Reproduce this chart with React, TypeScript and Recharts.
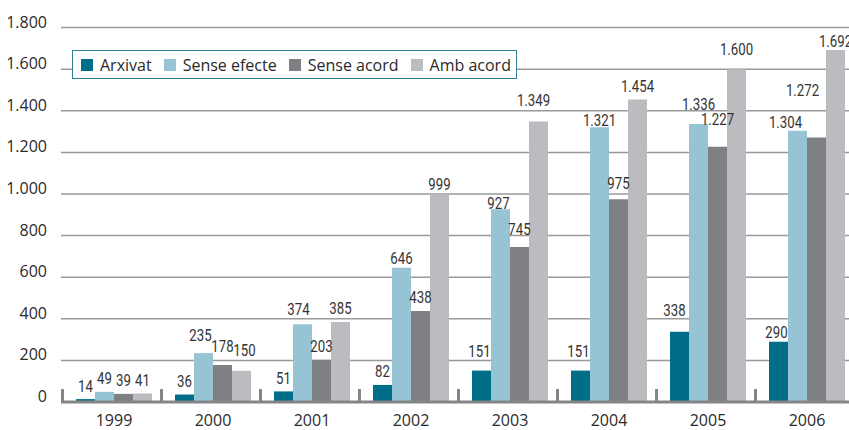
import { BarChart, Bar, XAxis, YAxis, CartesianGrid, Legend, LabelList } from "recharts";

const years = ["1999", "2000", "2001", "2002", "2003", "2004", "2005", "2006"];
const arxivat = [14, 36, 51, 82, 151, 151, 338, 290];
const senseEfecte = [49, 235, 374, 646, 927, 1321, 1336, 1304];
const senseAcord = [39, 178, 203, 438, 745, 975, 1227, 1272];
const ambAcord = [41, 150, 385, 999, 1349, 1454, 1600, 1692];
const yTicks = [0, 200, 400, 600, 800, 1000, 1200, 1400, 1600, 1800];

const series = [
  { key: "arxivat", name: "Arxivat", color: "#006e89" },
  { key: "senseEfecte", name: "Sense efecte", color: "#96c4d4" },
  { key: "senseAcord", name: "Sense acord", color: "#7f8084" },
  { key: "ambAcord", name: "Amb acord", color: "#bbbcc0" },
];

const data = years.map((year, i) => ({
  year,
  arxivat: arxivat[i],
  senseEfecte: senseEfecte[i],
  senseAcord: senseAcord[i],
  ambAcord: ambAcord[i],
}));

// hand nudges for value labels, as placed in the original
const labelShift: Record<string, [number, number]> = {
  "senseEfecte-2000": [-3, -5],
  "senseAcord-2000": [0, -5],
  "ambAcord-2000": [3, -7],
  "senseEfecte-2001": [-4, -2],
  "senseEfecte-2002": [0, 4],
  "ambAcord-2002": [0, 3],
  "arxivat-2003": [-2, -6],
  "senseEfecte-2003": [-2, 7],
  "senseAcord-2003": [0, -5],
  "ambAcord-2003": [-5, -8],
  "arxivat-2004": [-2, -6],
  "senseEfecte-2004": [0, 6],
  "senseAcord-2004": [0, -3],
  "arxivat-2005": [-5, -8],
  "senseEfecte-2005": [0, -7],
  "senseAcord-2005": [0, -14],
  "ambAcord-2005": [0, -7],
  "arxivat-2006": [-2, 4],
  "senseEfecte-2006": [-12, 5],
  "senseAcord-2006": [-14, -34],
  "ambAcord-2006": [0, 4],
};

const fmt = (n: number) => String(n).replace(/\B(?=(\d{3})+(?!\d))/g, ".");

const axisFont = "'Open Sans', 'Noto Sans', sans-serif";
const labelFont = "Roboto, 'Liberation Sans', sans-serif";

const makeLabel = (key: string) => (props: any) => {
  const { x, y, width, value, index } = props;
  const [dx, dy] = labelShift[`${key}-${years[index]}`] ?? [0, 0];
  const cx = Number(x) + Number(width) / 2 + dx;
  const cy = Number(y) - 7.5 + dy;
  // the original uses a condensed face: squeeze horizontally
  return (
    <text
      transform={`translate(${cx},${cy}) scale(0.8,1)`}
      textAnchor="middle"
      fontFamily={labelFont}
      fontSize={16.5}
      fill="#333"
    >
      {fmt(Number(value))}
    </text>
  );
};

const YearTick = (props: any) => {
  const { x, y, payload } = props;
  return (
    <g>
      <rect x={x - 53} y={y - 13} width={3} height={12} fill="#858585" />
      <text x={x} y={y + 24} textAnchor="middle" fontFamily={axisFont} fontSize={16} fill="#2a2a2a">
        {payload.value}
      </text>
    </g>
  );
};

const ValueTick = (props: any) => {
  const { x, y, payload } = props;
  return (
    <text x={x} y={y} textAnchor="end" fontFamily={axisFont} fontSize={16} fill="#2a2a2a">
      {fmt(payload.value)}
    </text>
  );
};

const LegendBox = () => (
  <div
    style={{
      boxSizing: "border-box",
      width: 445,
      height: 29,
      border: "1.5px solid #2f7f96",
      background: "#fff",
      display: "flex",
      alignItems: "center",
      paddingLeft: 8,
      gap: 12,
      fontFamily: axisFont,
      fontSize: 16,
      color: "#2a2a2a",
    }}
  >
    {series.map((s) => (
      <div key={s.key} style={{ display: "flex", alignItems: "center", gap: 7 }}>
        <span style={{ width: 12, height: 12, background: s.color, display: "inline-block" }} />
        <span>{s.name}</span>
      </div>
    ))}
  </div>
);

export default function App() {
  return (
    <div
      style={{
        position: "fixed",
        left: 0,
        top: 0,
        width: 849,
        height: 430,
        overflow: "hidden",
        background: "#fff",
      }}
    >
      <BarChart
        width={857}
        height={430}
        data={data}
        margin={{ top: 27.6, right: 0.5, bottom: 0, left: 0 }}
        barCategoryGap={11.5}
        barGap={0}
      >
        <CartesianGrid vertical={false} stroke="#999" strokeWidth={1.5} />
        <XAxis
          dataKey="year"
          height={28}
          padding={{ left: 3.5, right: 0 }}
          tickSize={0}
          tickMargin={0}
          tickLine={false}
          axisLine={{ stroke: "#858585", strokeWidth: 3 }}
          interval={0}
          tick={<YearTick />}
        />
        <YAxis
          type="number"
          domain={[0, 1800]}
          ticks={yTicks}
          width={61}
          tickSize={0}
          tickMargin={14}
          tickLine={false}
          axisLine={false}
          tick={<ValueTick />}
        />
        <Legend
          layout="horizontal"
          verticalAlign="middle"
          align="center"
          wrapperStyle={{ left: 72, top: 50, width: 445, height: 29 }}
          content={<LegendBox />}
        />
        {series.map((s) => (
          <Bar key={s.key} dataKey={s.key} name={s.name} fill={s.color} isAnimationActive={false}>
            <LabelList dataKey={s.key} content={makeLabel(s.key)} />
          </Bar>
        ))}
      </BarChart>
    </div>
  );
}
